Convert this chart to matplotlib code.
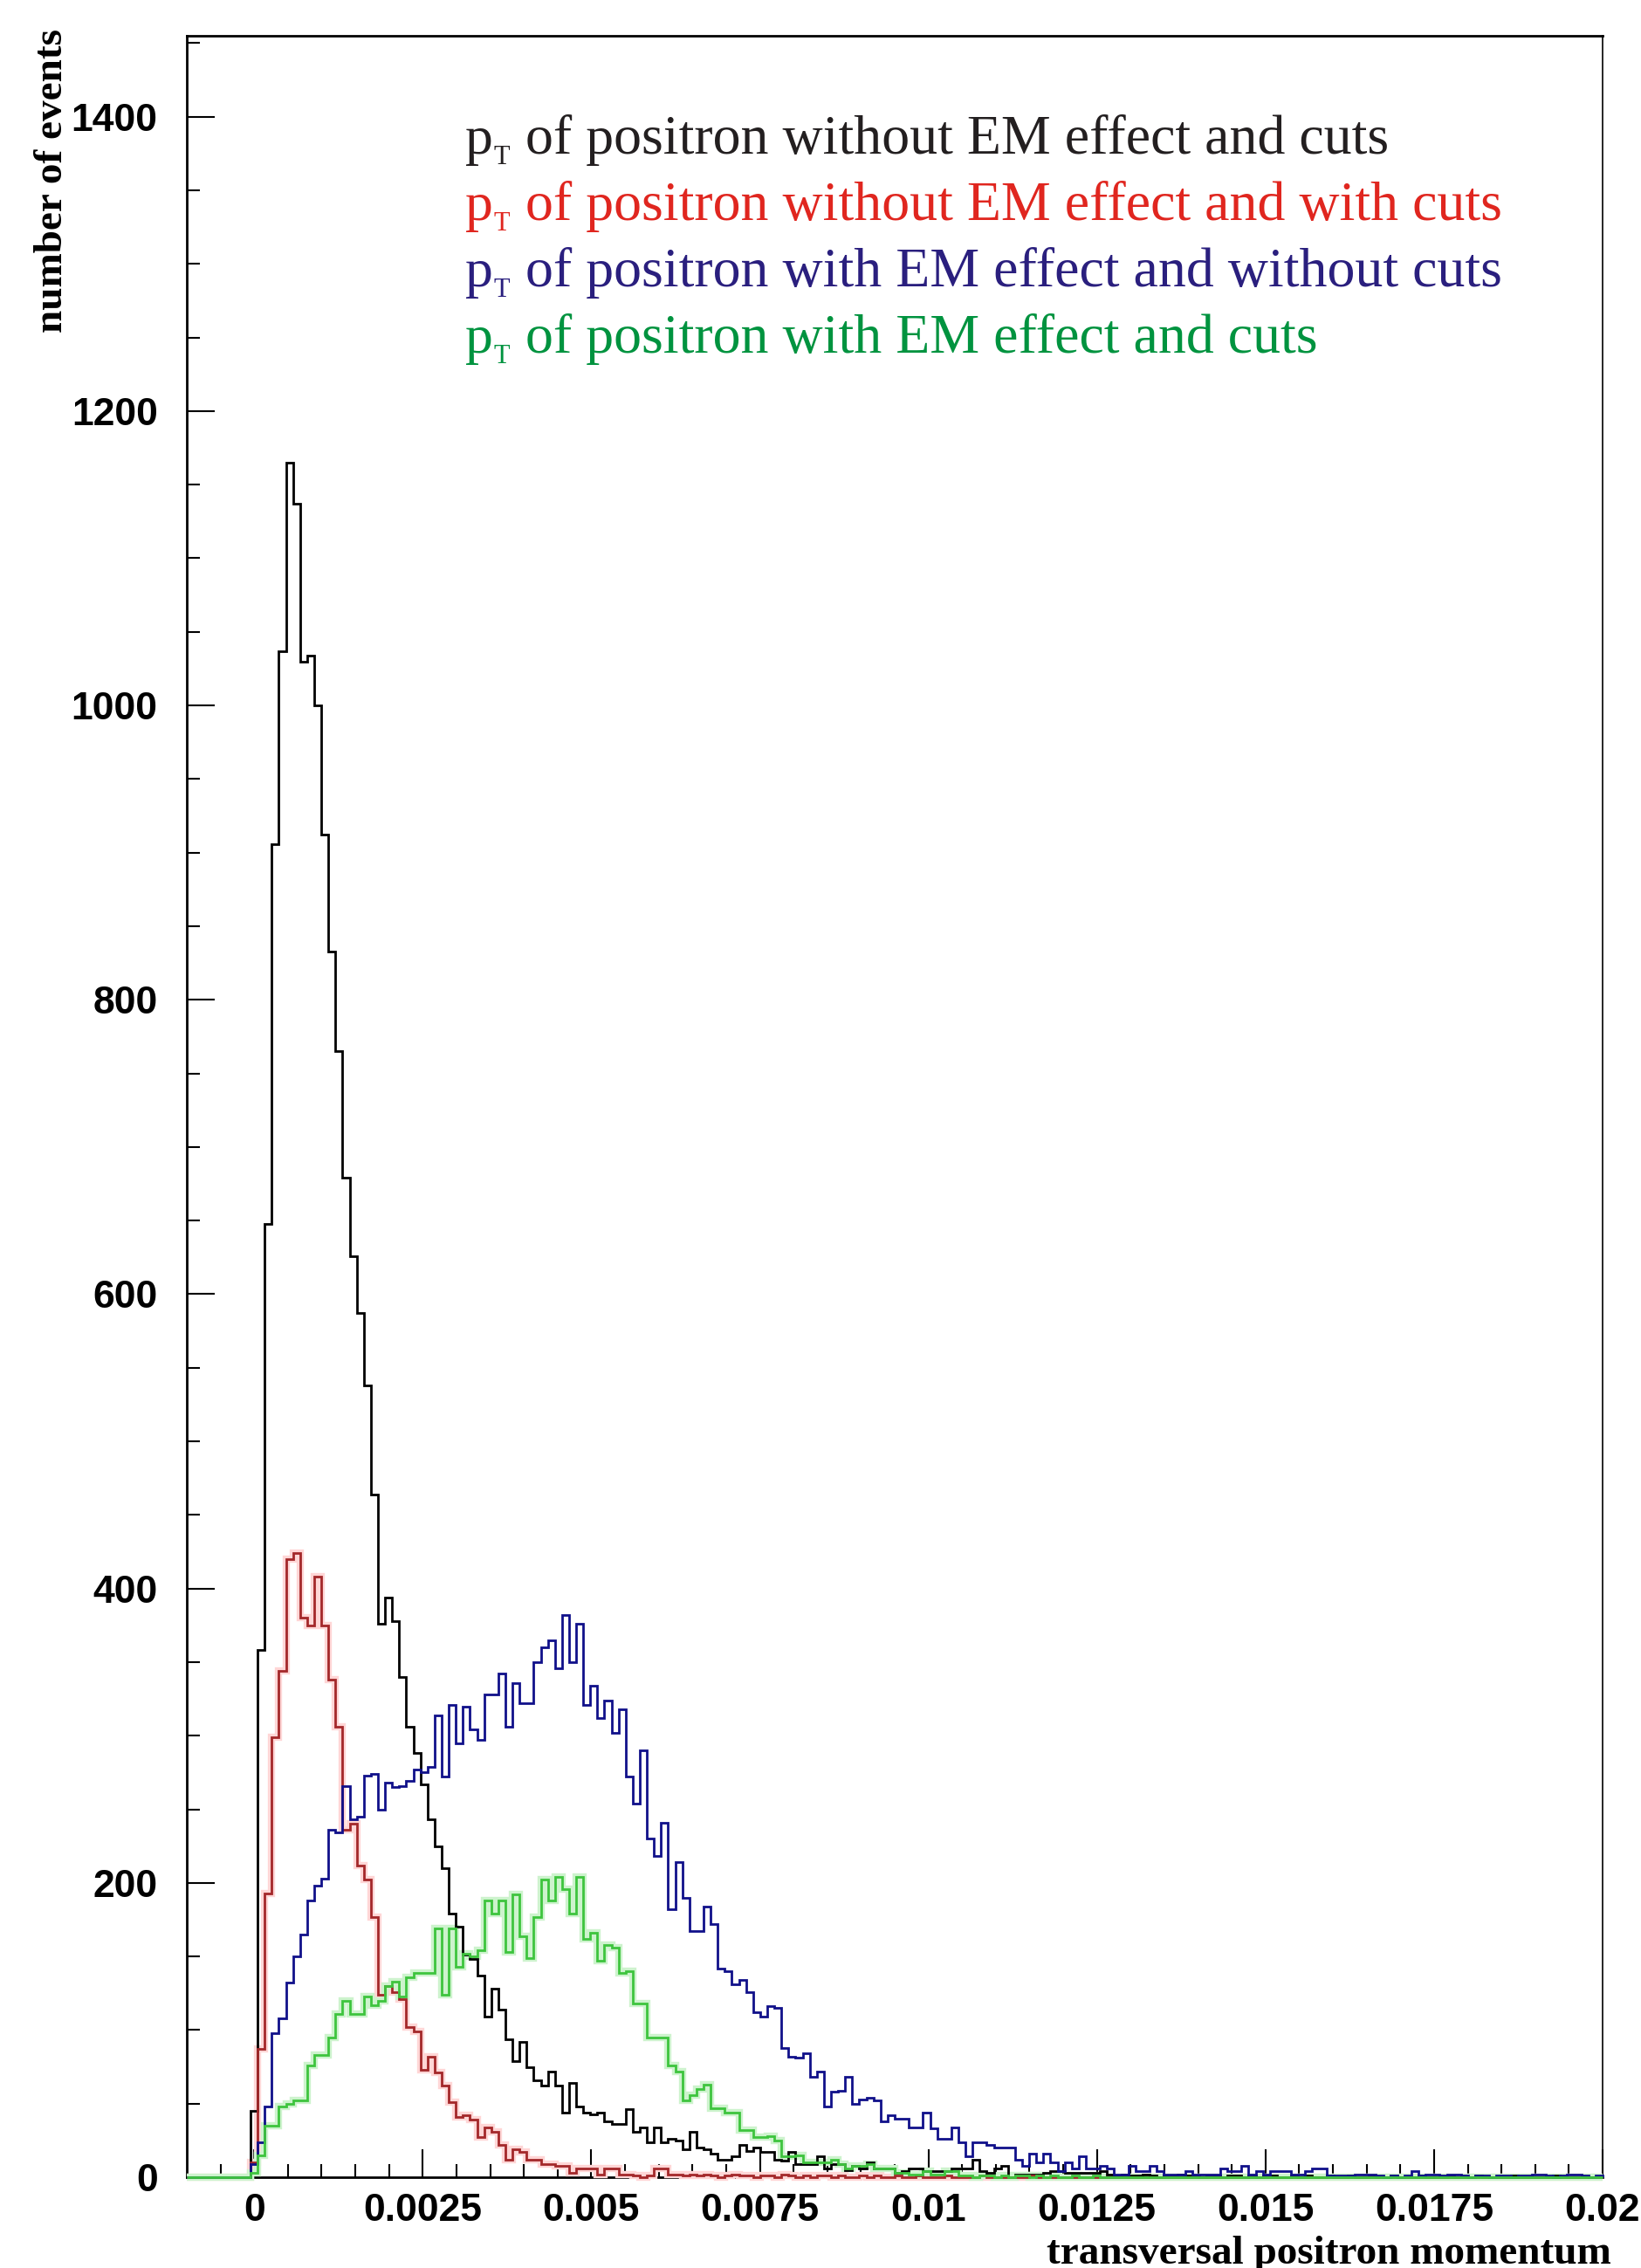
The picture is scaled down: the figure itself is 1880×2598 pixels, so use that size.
import numpy as np
import matplotlib.pyplot as plt

# 200 bins from -0.001 to 0.02
edges = np.linspace(-0.001, 0.02, 201)

pt_noem_nocut = [
    0, 0, 0, 0, 0, 0, 0, 0, 0, 45,
    358, 648, 906, 1037, 1165, 1137, 1030, 1034, 1000, 912,
    833, 765, 679, 626, 587, 538, 464, 376, 394, 378,
    340, 306, 288, 267, 243, 225, 210, 179, 170, 151,
    148, 137, 109, 128, 114, 94, 79, 92, 75, 66,
    62, 72, 62, 44, 64, 48, 44, 43, 44, 38,
    36, 36, 46, 31, 34, 24, 34, 24, 26, 25,
    19, 31, 20, 19, 16, 12, 12, 14, 22, 18,
    20, 17, 17, 12, 11, 17, 9, 9, 9, 14,
    6, 9, 9, 5, 8, 6, 10, 6, 6, 6,
    3, 4, 6, 6, 4, 4, 4, 4, 6, 6,
    6, 12, 4, 3, 6, 8, 0, 2, 2, 2,
    2, 3, 4, 4, 3, 3, 3, 3, 3, 4,
    2, 1, 2, 1, 1, 2, 1, 0, 1, 1,
    2, 1, 1, 0, 1, 1, 0, 1, 1, 0,
    1, 0, 1, 1, 0, 0, 1, 0, 1, 0,
    0, 1, 0, 0, 1, 0, 0, 1, 0, 0,
    1, 0, 0, 0, 1, 0, 0, 0, 1, 0,
    0, 0, 1, 0, 0, 0, 0, 1, 0, 0,
    0, 0, 0, 1, 0, 0, 0, 0, 0, 0,
]

pt_noem_cut = [
    0, 0, 0, 0, 0, 0, 0, 0, 0, 10,
    87, 193, 299, 344, 420, 424, 380, 375, 408, 375,
    338, 306, 236, 240, 212, 202, 177, 124, 130, 126,
    121, 102, 99, 73, 82, 71, 62, 51, 41, 42,
    39, 27, 34, 31, 22, 12, 19, 17, 12, 12,
    9, 9, 8, 8, 3, 6, 6, 6, 2, 6,
    6, 2, 2, 1, 0, 1, 6, 6, 2, 2,
    1, 2, 1, 2, 1, 0, 1, 2, 1, 1,
    0, 1, 1, 0, 2, 1, 0, 1, 0, 1,
    1, 0, 1, 0, 0, 1, 0, 1, 0, 0,
    1, 0, 0, 1, 0, 0, 0, 1, 0, 0,
    0, 0, 1, 0, 0, 0, 0, 0, 0, 1,
    0, 0, 0, 0, 0, 0, 0, 0, 0, 0,
    0, 0, 0, 0, 0, 0, 0, 0, 0, 0,
    0, 0, 0, 0, 0, 0, 0, 0, 0, 0,
    0, 0, 0, 0, 0, 0, 0, 0, 0, 0,
    0, 0, 0, 0, 0, 0, 0, 0, 0, 0,
    0, 0, 0, 0, 0, 0, 0, 0, 0, 0,
    0, 0, 0, 0, 0, 0, 0, 0, 0, 0,
    0, 0, 0, 0, 0, 0, 0, 0, 0, 0,
]

pt_em_nocut = [
    0, 0, 0, 0, 0, 0, 0, 0, 0, 9,
    24, 48, 98, 108, 132, 150, 165, 188, 198, 203,
    236, 234, 266, 243, 245, 273, 274, 250, 268, 265,
    266, 269, 277, 275, 279, 314, 272, 321, 295, 320,
    304, 297, 328, 328, 342, 306, 336, 322, 322, 350,
    360, 365, 346, 382, 350, 376, 321, 334, 312, 324,
    302, 318, 272, 254, 290, 230, 218, 241, 182, 214,
    190, 167, 167, 184, 172, 142, 140, 131, 134, 126,
    112, 109, 116, 115, 88, 82, 81, 84, 68, 72,
    48, 58, 59, 68, 50, 53, 54, 52, 38, 42,
    40, 40, 34, 34, 44, 33, 26, 26, 34, 24,
    14, 24, 24, 22, 20, 20, 20, 12, 8, 16,
    10, 16, 10, 4, 10, 6, 14, 6, 6, 8,
    6, 2, 2, 8, 4, 4, 8, 4, 2, 2,
    2, 4, 2, 2, 2, 2, 6, 4, 4, 8,
    2, 4, 2, 4, 4, 4, 2, 2, 4, 6,
    6, 1, 1, 1, 1, 2, 2, 2, 1, 0,
    1, 0, 1, 4, 1, 2, 2, 1, 2, 2,
    1, 0, 1, 1, 0, 1, 1, 0, 1, 1,
    2, 2, 1, 0, 1, 2, 2, 1, 0, 1,
]

pt_em_cut = [
    0, 0, 0, 0, 0, 0, 0, 0, 0, 3,
    15, 35, 35, 48, 50, 52, 52, 76, 83, 83,
    95, 111, 120, 111, 111, 123, 117, 120, 130, 133,
    123, 136, 139, 139, 139, 169, 124, 169, 143, 152,
    150, 154, 188, 179, 188, 153, 192, 164, 149, 177,
    202, 188, 204, 196, 179, 204, 162, 166, 147, 158,
    156, 139, 140, 118, 118, 95, 95, 95, 76, 72,
    52, 56, 60, 63, 47, 47, 44, 44, 32, 32,
    27, 27, 28, 25, 14, 14, 15, 10, 10, 10,
    10, 12, 9, 6, 8, 8, 9, 6, 6, 6,
    3, 3, 2, 2, 4, 2, 2, 4, 4, 1,
    1, 0, 1, 1, 0, 1, 0, 1, 1, 0,
    1, 0, 1, 0, 0, 1, 0, 0, 1, 0,
    0, 0, 0, 0, 0, 0, 0, 0, 0, 0,
    0, 0, 0, 0, 0, 0, 0, 0, 0, 0,
    0, 0, 0, 0, 0, 0, 0, 0, 0, 0,
    0, 0, 0, 0, 0, 0, 0, 0, 0, 0,
    0, 0, 0, 0, 0, 0, 0, 0, 0, 0,
    0, 0, 0, 0, 0, 0, 0, 0, 0, 0,
    0, 0, 0, 0, 0, 0, 0, 0, 0, 0,
]

legend_lines = [
    "of positron without EM effect and cuts",
    "of positron without EM effect and with cuts",
    "of positron with EM effect and without cuts",
    "of positron with EM effect and cuts",
]
legend_colors = ["#231f20", "#e0261f", "#2a1f7e", "#00933f"]

xtick_vals = [0, 0.0025, 0.005, 0.0075, 0.01, 0.0125, 0.015, 0.0175, 0.02]
xtick_labels = ["0", "0.0025", "0.005", "0.0075", "0.01", "0.0125", "0.015", "0.0175", "0.02"]

W, H = 1880, 2598
fig = plt.figure(figsize=(W / 100, H / 100), dpi=100)
ax = fig.add_axes([214 / W, 104 / H, 1622 / W, 2453 / H])

# faint halos like the blurred original, then the lines themselves
ax.stairs(pt_noem_cut, edges, color="#ffd6d6", lw=6, zorder=2.6, clip_on=False)
ax.stairs(pt_em_cut, edges, color="#cdf3cd", lw=6, zorder=2.6, clip_on=False)
ax.stairs(pt_noem_nocut, edges, color="black", lw=2, zorder=3, clip_on=False)
ax.stairs(pt_noem_cut, edges, color="#a3282a", lw=2, zorder=3, clip_on=False)
ax.stairs(pt_em_nocut, edges, color="#10108a", lw=2, zorder=3, clip_on=False)
ax.stairs(pt_em_cut, edges, color="#3ec43e", lw=2, zorder=3, clip_on=False)

ax.set_xlim(-0.001, 0.02)
ax.set_ylim(0, 1455)

ax.set_xticks(xtick_vals)
ax.set_xticklabels(xtick_labels)
ax.set_xticks(np.arange(-0.0005, 0.02, 0.0005), minor=True)
ax.set_yticks(np.arange(0, 1401, 200))
ax.set_yticks(np.arange(0, 1451, 50), minor=True)

ax.tick_params(which="both", direction="in", top=False, right=False, width=1.5)
ax.tick_params(which="major", length=23)
ax.tick_params(which="minor", length=11)
ax.tick_params(axis="y", which="major", pad=24)
ax.tick_params(axis="x", which="major", pad=13)
for lab in ax.get_xticklabels() + ax.get_yticklabels():
    lab.set_fontfamily("Liberation Sans")
    lab.set_fontweight("bold")
    lab.set_fontsize(32)

for side in ["left", "top", "bottom"]:
    ax.spines[side].set_linewidth(2)
ax.spines["right"].set_linewidth(1.2)

fig.text(60 / W, 1 - 33 / H, "number of events", rotation=90, ha="center", va="top",
         family="Liberation Serif", weight="bold", fontsize=34)
fig.text(1846 / W, 5 / H, "transversal positron momentum", ha="right", va="baseline",
         family="Liberation Serif", weight="bold", fontsize=34)

for i, (txt, col) in enumerate(zip(legend_lines, legend_colors)):
    yb = 176 + 76 * i
    fig.text(533 / W, 1 - yb / H, "p", color=col, family="Liberation Serif",
             fontsize=46, va="baseline")
    fig.text(566 / W, 1 - (yb + 12) / H, "T", color=col, family="Liberation Serif",
             fontsize=22, va="baseline")
    fig.text(602 / W, 1 - yb / H, txt, color=col, family="Liberation Serif",
             fontsize=46, va="baseline")

fig.savefig("out.png", dpi=100)
